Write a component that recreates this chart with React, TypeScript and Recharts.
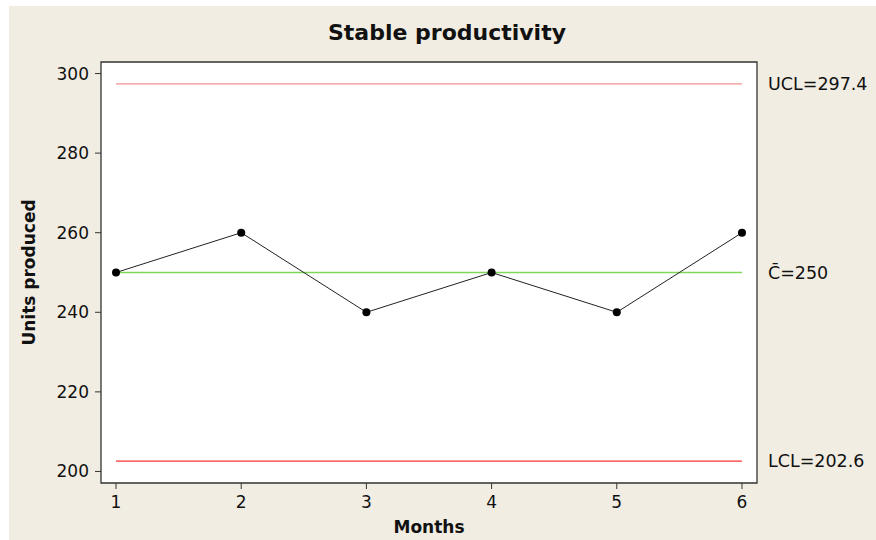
import React from 'react';
import { LineChart, Line, XAxis, YAxis, ReferenceLine, ReferenceArea } from 'recharts';

const months = [1, 2, 3, 4, 5, 6];
const units = [250, 260, 240, 250, 240, 260];
const yTicks = [200, 220, 240, 260, 280, 300];
const xDomain = [0.88, 6.12];
const yDomain = [197.1, 302.9];
const ucl = 297.4;
const center = 250;
const lcl = 202.6;

const data = months.map((m, i) => ({ month: m, units: units[i] }));

const FONT = '"DejaVu Sans", Verdana, sans-serif';
const first = months[0];
const last = months[months.length - 1];

const labelStyle = { fontSize: 17.5, fill: '#111', fontFamily: FONT };

export default function App() {
  return (
    <div style={{ position: 'absolute', left: 0, top: 0, width: 876, height: 540, background: '#ffffff', fontFamily: FONT }}>
      <div style={{ position: 'absolute', left: 9, top: 6, width: 867, height: 534, background: '#f1ede3' }} />
      <div style={{ position: 'absolute', left: 0, width: 894, textAlign: 'center', top: 19, fontSize: 22, fontWeight: 'bold', color: '#111', lineHeight: '28px' }}>
        Stable productivity
      </div>
      <div style={{ position: 'absolute', left: 0, top: 0 }}>
        <LineChart width={876} height={540} data={data} margin={{ top: 62, right: 119, bottom: 0, left: 0 }}>
          <ReferenceArea x1={xDomain[0]} x2={xDomain[1]} y1={yDomain[0]} y2={yDomain[1]} fill="#ffffff" fillOpacity={1} stroke="#333333" strokeWidth={1.3} ifOverflow="visible" />
          <XAxis
            dataKey="month"
            type="number"
            domain={xDomain}
            ticks={months}
            allowDataOverflow
            height={57}
            axisLine={false}
            tickSize={6}
            tickMargin={7}
            tickLine={{ stroke: '#333333' }}
            tick={{ fill: '#111', fontSize: 17, fontFamily: FONT }}
            label={{ value: 'Months', position: 'insideBottom', offset: 7, style: { fontSize: 17, fontWeight: 'bold', fill: '#111', fontFamily: FONT } }}
          />
          <YAxis
            type="number"
            domain={yDomain}
            ticks={yTicks}
            allowDataOverflow
            width={101}
            axisLine={false}
            tickSize={6}
            tickMargin={6}
            tickLine={{ stroke: '#333333' }}
            tick={{ fill: '#111', fontSize: 17, fontFamily: FONT }}
            label={{ value: 'Units produced', angle: -90, position: 'insideLeft', offset: 29, style: { textAnchor: 'middle', fontSize: 17, fontWeight: 'bold', fill: '#111', fontFamily: FONT } }}
          />
          <ReferenceLine segment={[{ x: first, y: ucl }, { x: last, y: ucl }]} stroke="#f29090" strokeWidth={1.3}
            label={{ value: `UCL=${ucl}`, position: 'right', offset: 26, style: labelStyle }} />
          <ReferenceLine segment={[{ x: first, y: center }, { x: last, y: center }]} stroke="#7fd65a" strokeWidth={1.3}
            label={{ value: `C\u0304=${center}`, position: 'right', offset: 26, style: labelStyle }} />
          <ReferenceLine segment={[{ x: first, y: lcl }, { x: last, y: lcl }]} stroke="#ff3333" strokeWidth={1.3}
            label={{ value: `LCL=${lcl}`, position: 'right', offset: 26, style: labelStyle }} />
          <Line
            type="linear"
            dataKey="units"
            stroke="#222222"
            strokeWidth={1}
            dot={{ r: 4, fill: '#000000', stroke: '#000000', strokeWidth: 0 }}
            activeDot={false}
            isAnimationActive={false}
          />
        </LineChart>
      </div>
    </div>
  );
}
